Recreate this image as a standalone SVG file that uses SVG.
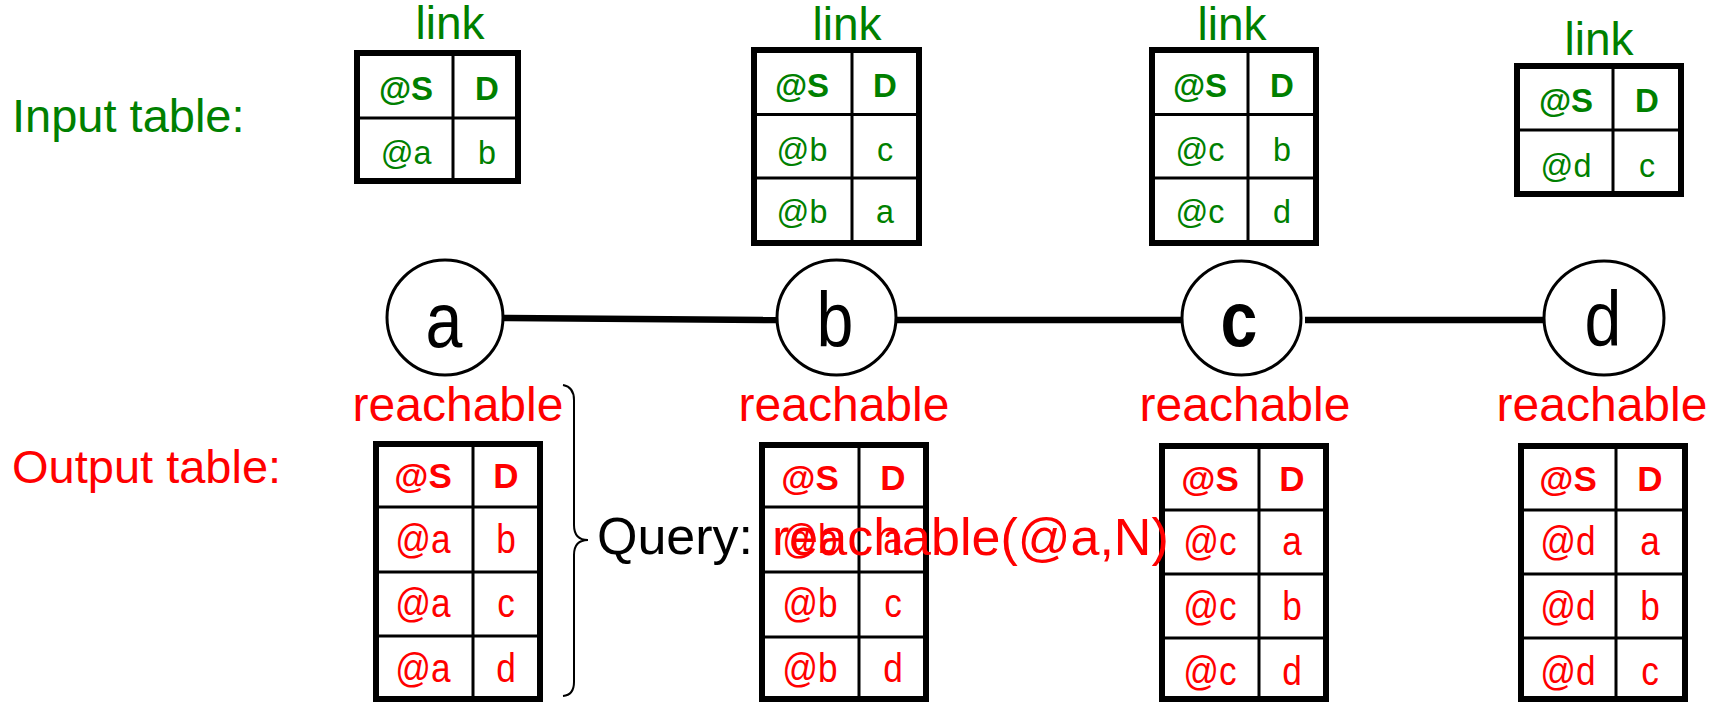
<svg xmlns="http://www.w3.org/2000/svg" width="1719" height="702" viewBox="0 0 1719 702">
<style>
text{font-family:"Liberation Sans",Arial,sans-serif}
.g{fill:#008000}.r{fill:#ff0000}.k{fill:#000}
.frame{fill:#fff;stroke:#000;stroke-width:6}
.grid{stroke:#000;stroke-width:3;fill:none}
.mid{text-anchor:middle}
.lbl{font-size:46px}
.ih{font-size:33px;font-weight:bold;text-anchor:middle}
.id{font-size:34px;text-anchor:middle;transform-box:fill-box;transform-origin:center;transform:scaleX(0.95)}
.oh{font-size:35px;font-weight:bold;text-anchor:middle}
.od{font-size:40px;text-anchor:middle;transform-box:fill-box;transform-origin:center;transform:scaleX(0.88)}
.cond{transform-box:fill-box;transform-origin:center;transform:scaleX(0.85)}
.node{fill:#fff;stroke:#000;stroke-width:3}
.nl{font-size:78px;text-anchor:middle}
.edge{stroke:#000;stroke-width:6.5;fill:none}
</style>

<text class="g" x="12" y="132" font-size="47">Input table:</text>
<text class="r" x="12" y="483" font-size="47">Output table:</text>

<g id="connectors">
<line class="edge" x1="503" y1="318" x2="777" y2="320"/>
<line class="edge" x1="896" y1="320" x2="1182" y2="320"/>
<line class="edge" x1="1305" y1="320" x2="1544" y2="320"/>
</g>

<g id="node-a">
<ellipse class="node" cx="445" cy="317.5" rx="58" ry="57.5"/>
<text class="k nl cond" x="444" y="347">a</text>
</g>
<g id="node-b">
<ellipse class="node" cx="836.5" cy="317.5" rx="59.5" ry="57.5"/>
<text class="k nl cond" x="835" y="347">b</text>
</g>
<g id="node-c">
<ellipse class="node" cx="1241.5" cy="318" rx="59.5" ry="57"/>
<text class="k nl cond" x="1239" y="346" font-weight="bold">c</text>
</g>
<g id="node-d">
<ellipse class="node" cx="1604" cy="318" rx="60" ry="57"/>
<text class="k nl cond" x="1603" y="346">d</text>
</g>

<g id="link-a">
<text class="g lbl mid" x="450" y="39">link</text>
<rect class="frame" x="357" y="53" width="161" height="128"/>
<path class="grid" d="M453 53V181M357 118H518"/>
<text class="g ih" x="406" y="100">@S</text><text class="g ih" x="487" y="100">D</text>
<text class="g id" x="406" y="164">@a</text><text class="g id" x="487" y="164">b</text>
</g>

<g id="link-b">
<text class="g lbl mid" x="847" y="40">link</text>
<rect class="frame" x="754" y="50" width="165" height="193"/>
<path class="grid" d="M852 50V243M754 114.5H919M754 178H919"/>
<text class="g ih" x="802" y="97">@S</text><text class="g ih" x="885" y="97">D</text>
<text class="g id" x="802" y="161">@b</text><text class="g id" x="885" y="161">c</text>
<text class="g id" x="802" y="223">@b</text><text class="g id" x="885" y="223">a</text>
</g>

<g id="link-c">
<text class="g lbl mid" x="1232" y="40">link</text>
<rect class="frame" x="1152" y="50" width="164" height="193"/>
<path class="grid" d="M1248 50V243M1152 114.5H1316M1152 178H1316"/>
<text class="g ih" x="1200" y="97">@S</text><text class="g ih" x="1282" y="97">D</text>
<text class="g id" x="1200" y="161">@c</text><text class="g id" x="1282" y="161">b</text>
<text class="g id" x="1200" y="223">@c</text><text class="g id" x="1282" y="223">d</text>
</g>

<g id="link-d">
<text class="g lbl mid" x="1599" y="55">link</text>
<rect class="frame" x="1517" y="66" width="164" height="128"/>
<path class="grid" d="M1613 66V194M1517 130H1681"/>
<text class="g ih" x="1566" y="112">@S</text><text class="g ih" x="1647" y="112">D</text>
<text class="g id" x="1566" y="177">@d</text><text class="g id" x="1647" y="177">c</text>
</g>

<g id="reachable-a">
<text class="r mid" x="458" y="421" font-size="48">reachable</text>
<rect class="frame" x="376" y="444" width="164" height="255"/>
<path class="grid" d="M473 444V699M376 507H540M376 572H540M376 636H540"/>
<text class="r oh" x="423" y="488">@S</text><text class="r oh" x="506" y="488">D</text>
<text class="r od" x="423" y="553">@a</text><text class="r od" x="506" y="553">b</text>
<text class="r od" x="423" y="617">@a</text><text class="r od" x="506" y="617">c</text>
<text class="r od" x="423" y="682">@a</text><text class="r od" x="506" y="682">d</text>
</g>

<g id="reachable-b">
<text class="r mid" x="844" y="421" font-size="48">reachable</text>
<rect class="frame" x="762" y="445" width="164" height="254"/>
<path class="grid" d="M859 445V699M762 507H926M762 572H926M762 637H926"/>
<text class="r oh" x="810" y="490">@S</text><text class="r oh" x="893" y="490">D</text>
<text class="r od" x="810" y="553">@b</text><text class="r od" x="893" y="553">a</text>
<text class="r od" x="810" y="617">@b</text><text class="r od" x="893" y="617">c</text>
<text class="r od" x="810" y="682">@b</text><text class="r od" x="893" y="682">d</text>
</g>

<g id="reachable-c">
<text class="r mid" x="1245" y="421" font-size="48">reachable</text>
<rect class="frame" x="1162" y="446" width="164" height="253"/>
<path class="grid" d="M1259 446V699M1162 510H1326M1162 574H1326M1162 638H1326"/>
<text class="r oh" x="1210" y="491">@S</text><text class="r oh" x="1292" y="491">D</text>
<text class="r od" x="1210" y="555">@c</text><text class="r od" x="1292" y="555">a</text>
<text class="r od" x="1210" y="620">@c</text><text class="r od" x="1292" y="620">b</text>
<text class="r od" x="1210" y="685">@c</text><text class="r od" x="1292" y="685">d</text>
</g>

<g id="reachable-d">
<text class="r mid" x="1602" y="421" font-size="48">reachable</text>
<rect class="frame" x="1521" y="446" width="164" height="253"/>
<path class="grid" d="M1616 446V699M1521 510H1685M1521 574H1685M1521 638H1685"/>
<text class="r oh" x="1568" y="491">@S</text><text class="r oh" x="1650" y="491">D</text>
<text class="r od" x="1568" y="555">@d</text><text class="r od" x="1650" y="555">a</text>
<text class="r od" x="1568" y="620">@d</text><text class="r od" x="1650" y="620">b</text>
<text class="r od" x="1568" y="685">@d</text><text class="r od" x="1650" y="685">c</text>
</g>

<g id="query">
<path d="M563 385Q574 387 574 400L574 525Q574 540 588 540Q574 540 574 555L574 682Q574 695 563 696" fill="none" stroke="#000" stroke-width="2"/>
<text class="k" x="597" y="554" font-size="52">Query:</text>
<text class="r" x="772" y="555" font-size="52">reachable(@a,N)</text>
</g>
</svg>
